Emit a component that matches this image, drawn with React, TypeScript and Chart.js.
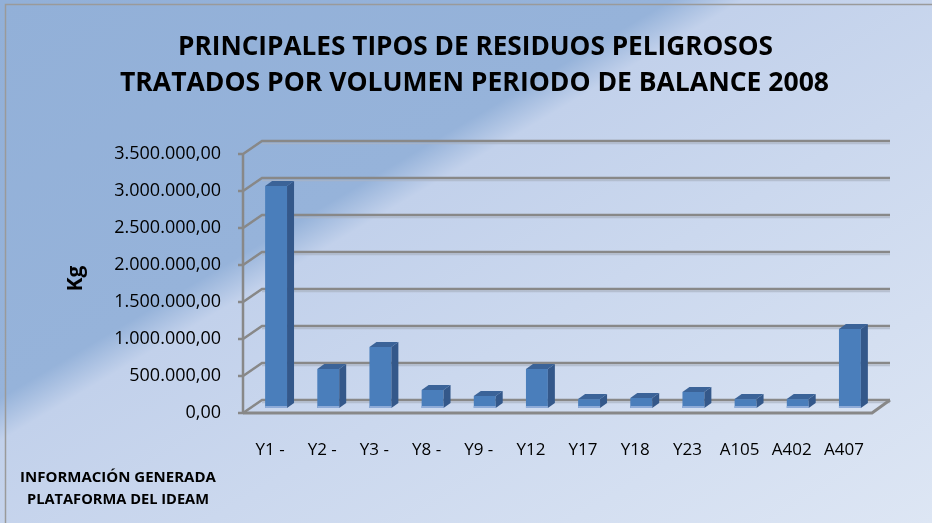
import React, { useEffect, useRef } from "react";
import { Chart, registerables } from "chart.js";

Chart.register(...registerables);

const categories = ["Y1 -", "Y2 -", "Y3 -", "Y8 -", "Y9 -", "Y12", "Y17", "Y18", "Y23", "A105", "A402", "A407"];
const volumes = [3000000, 527000, 824000, 243000, 162000, 527000, 120000, 135000, 216000, 120000, 120000, 1067000];
const yTickValues = [0, 500000, 1000000, 1500000, 2000000, 2500000, 3000000, 3500000];
const titleLines = ["PRINCIPALES TIPOS DE RESIDUOS PELIGROSOS", "TRATADOS POR VOLUMEN PERIODO DE BALANCE 2008"];
const footerLines = ["INFORMACIÓN GENERADA", "PLATAFORMA DEL IDEAM"];
const yAxisTitle = "Kg";

function formatEs(v: number): string {
  const fixed = Math.abs(v).toFixed(2);
  const [intPart, dec] = fixed.split(".");
  const grouped = intPart.replace(/\B(?=(\d{3})+(?!\d))/g, ".");
  return (v < 0 ? "-" : "") + grouped + "," + dec;
}

const W = 932;
const H = 523;
// perspective offsets (pixels) relative to the bar plane
const FX = -7, FY = 5; // front plane
const BX = 12, BY = -8; // back wall
const DX = 7, DY = 5; // bar depth

const decoPlugin = {
  id: "deco",
  beforeDraw(chart: any) {
    const ctx = chart.ctx;
    ctx.save();
    const g = ctx.createLinearGradient(0, 0, 472, 796);
    g.addColorStop(0, "#92b0d8");
    g.addColorStop(0.37, "#96b3da");
    g.addColorStop(0.41, "#c2d1eb");
    g.addColorStop(0.6, "#cbd8ee");
    g.addColorStop(1, "#dde6f4");
    ctx.fillStyle = g;
    ctx.fillRect(0, 0, W, H);
    ctx.strokeStyle = "#9a9a9a";
    ctx.lineWidth = 1.5;
    ctx.beginPath();
    ctx.moveTo(5.5, H);
    ctx.lineTo(5.5, 4.5);
    ctx.lineTo(W, 4.5);
    ctx.stroke();
    ctx.restore();
  },
  beforeDatasetsDraw(chart: any) {
    const ctx = chart.ctx;
    const ys = chart.scales.y;
    const { left, right } = chart.chartArea;
    ctx.save();
    ctx.lineCap = "butt";
    const gridColor = "#888888";
    const shadow = "rgba(170,180,195,0.7)";
    yTickValues.forEach((v) => {
      const yb = ys.getPixelForValue(v);
      ctx.strokeStyle = shadow;
      ctx.lineWidth = 1.5;
      ctx.beginPath();
      ctx.moveTo(left + BX, yb + BY + 2.5);
      ctx.lineTo(right + 14, yb + BY + 2.5);
      ctx.stroke();
      ctx.strokeStyle = gridColor;
      ctx.lineWidth = 2.5;
      ctx.beginPath();
      ctx.moveTo(left + FX - 5, yb + FY);
      ctx.lineTo(left + FX, yb + FY);
      ctx.lineTo(left + BX, yb + BY);
      ctx.lineTo(right + 14, yb + BY);
      ctx.stroke();
    });
    const y0 = ys.getPixelForValue(0);
    const yTop = ys.getPixelForValue(3500000);
    ctx.strokeStyle = gridColor;
    ctx.lineWidth = 2.5;
    ctx.beginPath();
    ctx.moveTo(left + FX, yTop + FY);
    ctx.lineTo(left + FX, y0 + FY);
    ctx.stroke();
    ctx.lineWidth = 3;
    ctx.beginPath();
    ctx.moveTo(left + FX, y0 + FY);
    ctx.lineTo(right - 4, y0 + FY);
    ctx.lineTo(right + 14, y0 + BY);
    ctx.stroke();
    ctx.restore();
  },
  afterDatasetsDraw(chart: any) {
    const ctx = chart.ctx;
    const meta = chart.getDatasetMeta(0);
    ctx.save();
    meta.data.forEach((bar: any) => {
      const { x, y, base, width } = bar.getProps(["x", "y", "base", "width"], true);
      const l = x - width / 2;
      const r = x + width / 2;
      ctx.fillStyle = "#34588a";
      ctx.beginPath();
      ctx.moveTo(r, y);
      ctx.lineTo(r + DX, y - DY);
      ctx.lineTo(r + DX, base - DY);
      ctx.lineTo(r, base);
      ctx.closePath();
      ctx.fill();
      ctx.fillStyle = "#3b6398";
      ctx.beginPath();
      ctx.moveTo(l, y);
      ctx.lineTo(l + DX, y - DY);
      ctx.lineTo(r + DX, y - DY);
      ctx.lineTo(r, y);
      ctx.closePath();
      ctx.fill();
      ctx.fillStyle = "#8eabd8";
      ctx.fillRect(l, base - 2, width, 2);
    });
    ctx.restore();
  },
  afterDraw(chart: any) {
    const ctx = chart.ctx;
    ctx.save();
    ctx.fillStyle = "#000";
    ctx.textAlign = "center";
    ctx.textBaseline = "middle";
    ctx.font = "bold 27px 'Open Sans', sans-serif";
    ctx.fillText(titleLines[0], 475.5, 47, 595);
    ctx.fillText(titleLines[1], 474.5, 83, 709);
    ctx.font = "bold 15px 'Open Sans', sans-serif";
    ctx.fillText(footerLines[0], 118, 478, 200);
    ctx.fillText(footerLines[1], 118, 500, 182);
    ctx.restore();
  },
};

export default function App() {
  const ref = useRef<HTMLCanvasElement | null>(null);
  useEffect(() => {
    if (!ref.current) return;
    const chart = new Chart(ref.current, {
      type: "bar",
      data: {
        labels: categories,
        datasets: [
          {
            label: "Kg",
            data: volumes,
            backgroundColor: "#4a7ebb",
            borderWidth: 0,
            barPercentage: 0.42,
            categoryPercentage: 1,
          },
        ],
      },
      options: {
        responsive: false,
        animation: false,
        layout: { padding: { left: 58, right: 56, top: 149, bottom: 0 } },
        plugins: {
          legend: { display: false },
          tooltip: { enabled: false },
          title: { display: false },
        },
        scales: {
          x: {
            grid: { display: false, drawTicks: false },
            border: { display: false },
            ticks: {
              color: "#000",
              font: { family: "'Open Sans', sans-serif", size: 17 },
              padding: 32,
              labelOffset: -6,
              maxRotation: 0,
              autoSkip: false,
            },
            afterFit: (scale: any) => {
              scale.height = 115;
            },
          },
          y: {
            min: 0,
            max: 3500000,
            grid: { display: false, drawTicks: false },
            border: { display: false },
            ticks: {
              stepSize: 500000,
              color: "#000",
              font: { family: "'Open Sans', sans-serif", size: 18 },
              padding: 29,
              labelOffset: 5,
              callback: (v: any) => formatEs(Number(v)),
            },
            title: {
              display: true,
              text: yAxisTitle,
              color: "#000",
              font: { family: "'Open Sans', sans-serif", size: 21, weight: "bold" },
              padding: { top: 5, bottom: 0 },
            },
            afterFit: (scale: any) => {
              scale.width = 192;
            },
          },
        },
      },
      plugins: [decoPlugin],
    });
    return () => chart.destroy();
  }, []);
  return (
    <div style={{ position: "absolute", left: 0, top: 0, width: W, height: H }}>
      <canvas ref={ref} width={W} height={H} style={{ width: W, height: H, display: "block" }} />
    </div>
  );
}
